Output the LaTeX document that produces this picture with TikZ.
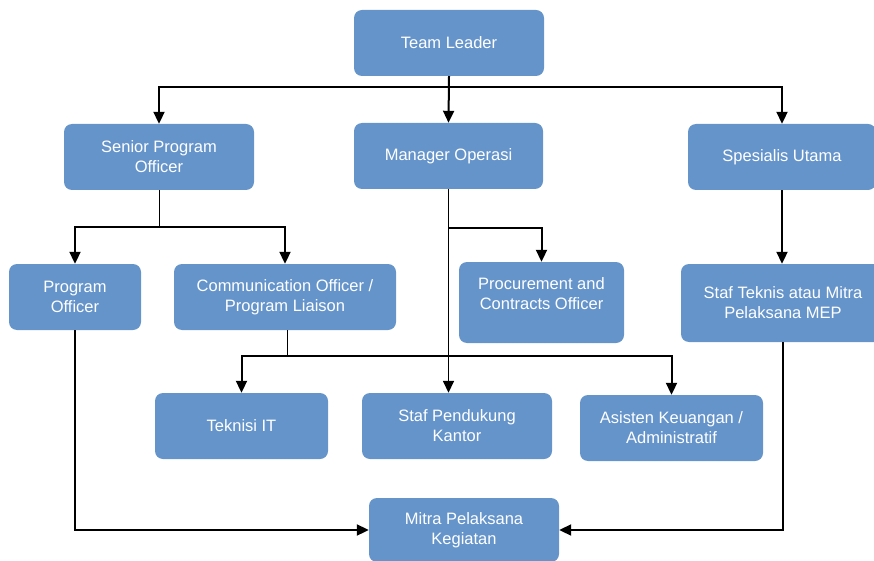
\documentclass[tikz,border=0pt]{standalone}
\usepackage{fontspec}
\setmainfont{Liberation Sans}
\usetikzlibrary{arrows.meta}
\definecolor{boxblue}{RGB}{101,148,203}
\begin{document}
\begin{tikzpicture}[x=1pt,y=-1pt,
  orgbox/.style={fill=boxblue, rounded corners=8pt, text=white, align=center,
    font=\fontsize{16.5}{20}\selectfont, inner sep=0pt},
  orgtext/.style={text=white, align=center, font=\fontsize{16.5}{20}\selectfont, inner sep=0pt},
  arr/.style={-{Triangle[length=12pt,width=11pt]}, line width=2pt},
  link/.style={line width=2pt},
  fine/.style={line width=0.9pt}]
\useasboundingbox (0,0) rectangle (874,561);
\clip (0,0) rectangle (874,561);

% boxes
\node[orgbox, minimum width=190pt, minimum height=66pt] (tl) at (449,43) {Team Leader};
\node[orgbox, minimum width=190pt, minimum height=66pt] (spo) at (159,157) {Senior Program\\Officer};
\node[orgbox, minimum width=189pt, minimum height=66pt] (mo) at (448.5,156) {Manager Operasi};
\node[orgbox, minimum width=188pt, minimum height=66pt] (su) at (782,157) {Spesialis Utama};
\node[orgbox, minimum width=132pt, minimum height=66pt] (po) at (75,297) {Program\\Officer};
\node[orgbox, minimum width=222pt, minimum height=66pt] (co) at (285,297) {Communication Officer /\\Program Liaison};
\node[orgbox, minimum width=165pt, minimum height=81pt] (pc) at (541.5,302.5) {};
\node[orgtext] (pctext) at (541.5,294) {Procurement and\\Contracts Officer};
\node[orgbox, minimum width=204pt, minimum height=78pt] (st) at (783,303) {Staf Teknis atau Mitra\\Pelaksana MEP};
\node[orgbox, minimum width=173pt, minimum height=66pt] (ti) at (241.5,426) {Teknisi IT};
\node[orgbox, minimum width=190pt, minimum height=66pt] (sp) at (457,426) {Staf Pendukung\\Kantor};
\node[orgbox, minimum width=183pt, minimum height=66pt] (as) at (671.5,428) {Asisten Keuangan /\\Administratif};
\node[orgbox, minimum width=190pt, minimum height=64pt] (mp) at (464,530) {Mitra Pelaksana\\Kegiatan};

% junction points
\coordinate (tlj) at (449,87);
\coordinate (spoj) at (159,227);
\coordinate (moj) at (449,228);
\coordinate (coj) at (287,356);

% Team Leader
\draw[link] (tl.south) -- (tlj);
\draw[arr] (tl.south) -- (mo.north);
\draw[arr] (tlj) -| (spo.north);
\draw[arr] (tlj) -| (su.north);

% Senior Program Officer
\draw[fine] (spo.south) -- (spoj);
\draw[arr] (spoj) -| (po.north);
\draw[arr] (spoj) -| (co.north);

% Manager Operasi
\draw[arr, line width=1.6pt] (mo.south) -- (mo.south |- sp.north);
\draw[arr] (moj) -| (pc.north);

% Spesialis Utama
\draw[arr] (su.south) -- (su.south |- st.north);

% Communication Officer
\draw[fine] (coj |- co.south) -- (coj);
\draw[arr] (coj) -| (ti.north);
\draw[arr] (coj) -| (as.north);

% lines into Mitra Pelaksana Kegiatan
\draw[arr] (po.south) |- (mp.west);
\draw[arr] (st.south) |- (mp.east);
\end{tikzpicture}
\end{document}
